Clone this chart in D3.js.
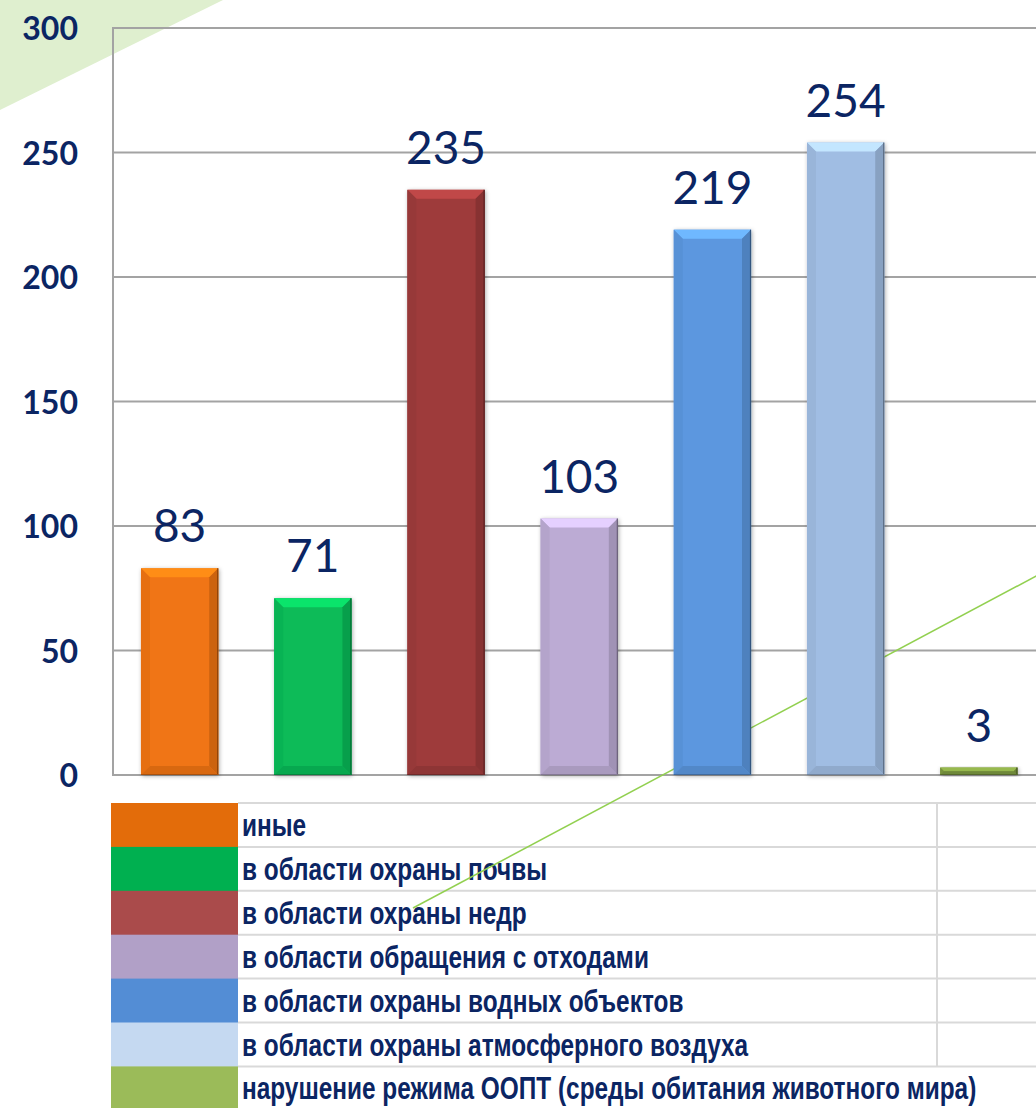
<!DOCTYPE html>
<html><head><meta charset="utf-8">
<script src="https://cdn.jsdelivr.net/npm/d3@7"></script>
<style>
html,body{margin:0;padding:0;background:#fff;overflow:hidden;}
svg{display:block;}
</style></head>
<body>
<svg id="chart" width="1036" height="1108"></svg>
<script>
// ---- data ----
const categories = [
  "иные",
  "в области охраны почвы",
  "в области охраны недр",
  "в области обращения с отходами",
  "в области охраны водных объектов",
  "в области охраны атмосферного воздуха",
  "нарушение режима ООПТ (среды обитания животного мира)"
];
const values = [83, 71, 235, 103, 219, 254, 3];
const yTicks = [0, 50, 100, 150, 200, 250, 300];
const barColors = ["#f07412", "#08bb58", "#9e3b3b", "#bcabd4", "#5b97df", "#a0bde3", "#7c9840"];
const legendColors = ["#e36c0a", "#00b050", "#aa4b4b", "#b1a0c7", "#538dd5", "#c5d9f1", "#9bbb59"];

const W = 1036, H = 1108;
const navy = "#0b2563";
const svg = d3.select("#chart");
const defs = svg.append("defs");

const f = defs.append("filter").attr("id","shadow").attr("x","-20%").attr("y","-20%").attr("width","140%").attr("height","140%");
f.append("feDropShadow").attr("dx",1).attr("dy",1).attr("stdDeviation",2.2).attr("flood-color","#000").attr("flood-opacity",0.35);

// background decoration
svg.append("polygon").attr("points", "0,0 223,0 0,110").attr("fill", "#dfefcf");

// scales
const x = d3.scaleBand().domain(categories).range([113, 113 + 7 * 133.2]).paddingInner(0.42).paddingOuter(0.21);
const y = d3.scaleLinear().domain([0, 300]).range([775, 28]);

// gridlines
svg.append("g").selectAll("line").data(yTicks).join("line")
  .attr("x1", 113).attr("x2", W + 10)
  .attr("y1", d => y(d)).attr("y2", d => y(d))
  .attr("stroke", "#a3a3a3").attr("stroke-width", 2);
svg.append("line").attr("x1", 113).attr("x2", 113).attr("y1", y(300) - 1).attr("y2", y(0) + 1)
  .attr("stroke", "#a3a3a3").attr("stroke-width", 2);

// y axis labels
const yAxis = d3.axisLeft(y).tickValues(yTicks).tickSize(0).tickPadding(0);
const ga = svg.append("g").attr("transform", "translate(78,0)").call(yAxis);
ga.select(".domain").remove();
ga.selectAll("text").attr("fill", navy).attr("font-family", "Lato, 'Open Sans', sans-serif")
  .attr("font-weight", "bold").attr("font-size", 32).attr("dy", "0.36em");

// legend table
const rowH = 43.9, legTop = 803;
const leg = svg.append("g");
categories.forEach((c, i) => {
  const ry = legTop + i * rowH;
  leg.append("rect").attr("x", 111).attr("y", ry).attr("width", 127).attr("height", rowH + 0.5).attr("fill", legendColors[i]);
  leg.append("line").attr("x1", 238).attr("x2", W).attr("y1", ry).attr("y2", ry).attr("stroke", "#d9d9d9").attr("stroke-width", 2);
  leg.append("text").attr("transform", `translate(242,${ry + 33}) scale(1,1.3)`).text(c)
    .attr("fill", navy).attr("font-family", "'Liberation Sans', Arial, sans-serif")
    .attr("font-weight", "bold").attr("font-size", 24.4);
});
leg.append("line").attr("x1", 937).attr("x2", 937).attr("y1", legTop).attr("y2", legTop + 6 * rowH)
  .attr("stroke", "#d9d9d9").attr("stroke-width", 2);

// decorative green line (behind bars)
svg.append("line").attr("x1", 413).attr("y1", 908).attr("x2", 1040).attr("y2", 574)
  .attr("stroke", "#92d050").attr("stroke-width", 1.5);

// bars with bevel
const bars = svg.append("g");
values.forEach((v, i) => {
  const c = d3.color(barColors[i]);
  const bx = x(categories[i]), bw = x.bandwidth();
  const by = y(v), bh = y(0) - y(v);
  const b = Math.min(9, bh / 2);
  const g = bars.append("g");
  g.append("rect").attr("x", bx).attr("y", by).attr("width", bw).attr("height", bh)
    .attr("fill", c.formatHex()).attr("filter", "url(#shadow)");
  g.append("polygon").attr("points", `${bx},${by} ${bx+bw},${by} ${bx+bw-b},${by+b} ${bx+b},${by+b}`)
    .attr("fill", c.brighter(0.55).formatHex());
  g.append("polygon").attr("points", `${bx},${by} ${bx+b},${by+b} ${bx+b},${by+bh-b} ${bx},${by+bh}`)
    .attr("fill", c.darker(0.12).formatHex());
  g.append("polygon").attr("points", `${bx+bw},${by} ${bx+bw},${by+bh} ${bx+bw-b},${by+bh-b} ${bx+bw-b},${by+b}`)
    .attr("fill", c.darker(0.45).formatHex());
  g.append("polygon").attr("points", `${bx},${by+bh} ${bx+bw},${by+bh} ${bx+bw-b},${by+bh-b} ${bx+b},${by+bh-b}`)
    .attr("fill", c.darker(0.3).formatHex());
  g.append("line").attr("x1", bx + bw - 0.5).attr("x2", bx + bw - 0.5).attr("y1", by).attr("y2", by + bh)
    .attr("stroke", c.darker(1.6).formatHex()).attr("stroke-width", 1.2);
  g.append("line").attr("x1", bx).attr("x2", bx + bw).attr("y1", by + bh - 0.5).attr("y2", by + bh - 0.5)
    .attr("stroke", c.darker(1.0).formatHex()).attr("stroke-width", 1);
});

// value labels
svg.append("g").selectAll("text").data(values).join("text")
  .attr("x", (d, i) => x(categories[i]) + x.bandwidth() / 2)
  .attr("y", d => y(d) - 26)
  .attr("text-anchor", "middle")
  .attr("fill", navy).attr("font-family", "Lato, 'Open Sans', sans-serif").attr("font-size", 46)
  .text(d => d);
</script>
</body></html>
